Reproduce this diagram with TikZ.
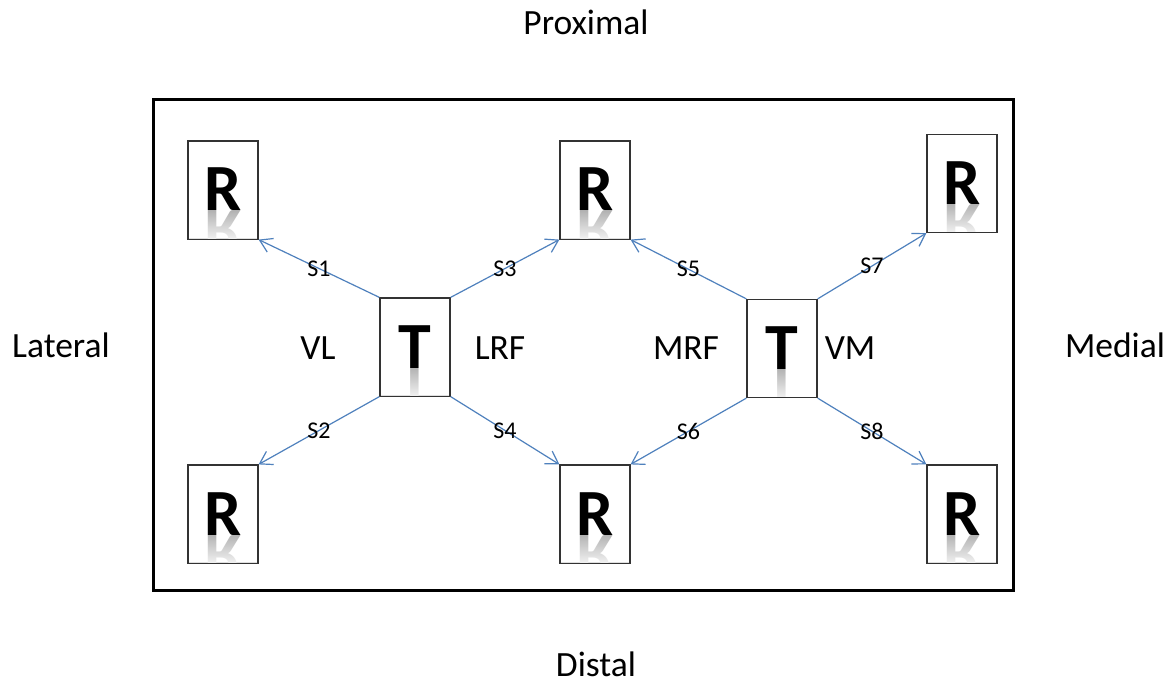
\documentclass[tikz,border=0pt]{standalone}
\usepackage{fontspec}
\setmainfont{Carlito}
\usetikzlibrary{arrows.meta,fadings}
\definecolor{arrowblue}{RGB}{79,129,189}
\newcommand\drawlbox[4]{%
  \node[letterbox] (#1) at (#2,#3) {};
  \begin{scope}
    \clip ([xshift=0.6pt,yshift=0.6pt]#1.south west) rectangle ([xshift=-0.6pt,yshift=-0.6pt]#1.north east);
    \node[bigletter, yscale=-1, text=black!40] (#1m) at (#2,#3+21) {#4};
    \fill[white, path fading=north] (#2-34,#3+9) rectangle (#2+34,#3+55);
  \end{scope}
  \node[bigletter] (#1l) at (#2,#3+21) {#4};
}
\begin{document}
\begin{tikzpicture}[x=0.5pt,y=-0.5pt,
  letterbox/.style={draw=black!80, line width=0.6pt, minimum width=35pt, minimum height=49pt, inner sep=0pt},
  conn/.style={arrowblue, line width=0.6pt, -{Straight Barb[length=6pt,width=7.5pt]}},
  slabel/.style={font=\fontsize{12}{13}\selectfont, inner sep=0pt, text=black},
  sidelabel/.style={font=\fontsize{17.75}{20}\selectfont, inner sep=0pt, anchor=base},
  bigletter/.style={font=\fontsize{33}{34}\selectfont\bfseries, inner sep=0pt, anchor=base}]
\useasboundingbox (0,0) rectangle (1176,684);
\fill[white] (0,0) rectangle (1176,684);

% frame
\draw[line width=1.5pt] (153,100) rectangle (1013,590);

% boxes
\drawlbox{r1}{223}{190}{R}
\drawlbox{r2}{595}{190}{R}
\drawlbox{r3}{962}{183.5}{R}
\drawlbox{r4}{223}{514}{R}
\drawlbox{r5}{595}{514}{R}
\drawlbox{r6}{962}{514}{R}
\drawlbox{t1}{415}{347}{T}
\drawlbox{t2}{782}{348.5}{T}

% connectors
\draw[conn] (t1.north west) -- (r1.south east) node[midway, slabel] (s1) {S1};
\draw[conn] (t1.south west) -- (r4.north east) node[midway, slabel] (s2) {S2};
\draw[conn] (t1.north east) -- (r2.south west) node[midway, slabel] (s3) {S3};
\draw[conn] (t1.south east) -- (r5.north west) node[midway, slabel] (s4) {S4};
\draw[conn] (t2.north west) -- (r2.south east) node[midway, slabel] (s5) {S5};
\draw[conn] (t2.south west) -- (r5.north east) node[midway, slabel] (s6) {S6};
\draw[conn] (t2.north east) -- (r3.south west) node[midway, slabel] (s7) {S7};
\draw[conn] (t2.south east) -- (r6.north west) node[midway, slabel] (s8) {S8};

% region labels
\node[sidelabel] (vl) at (318,359) {VL};
\node[sidelabel] (lrf) at (500,359) {LRF};
\node[sidelabel] (mrf) at (686,359) {MRF};
\node[sidelabel] (vm) at (850,359) {VM};

% orientation labels
\node[sidelabel] (prox) at (586,35) {Proximal};
\node[sidelabel] (dist) at (596,676) {Distal};
\node[sidelabel] (lat) at (61,357) {Lateral};
\node[sidelabel] (med) at (1115,357) {Medial};
\end{tikzpicture}
\end{document}
